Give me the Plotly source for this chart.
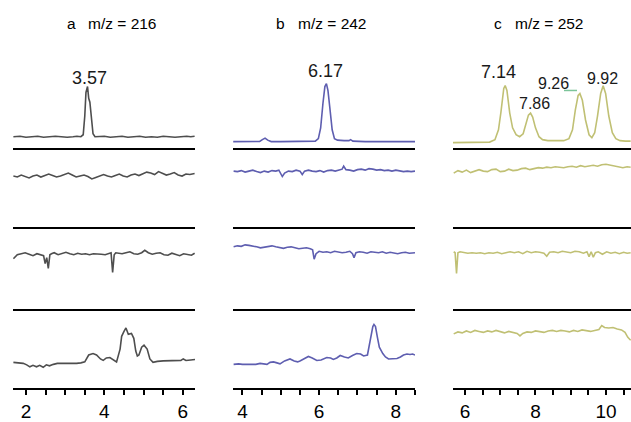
import plotly.graph_objects as go

# ---------------- data (retention time, min ; relative intensity) ----------------
titles_letter = ["a", "b", "c"]
titles_mz = ["m/z = 216", "m/z = 242", "m/z = 252"]

# column a
a1_x = [1.68,1.85,2.0,2.15,2.3,2.45,2.6,2.75,2.9,3.05,3.2,3.3,3.4,3.46,3.50,3.53,3.57,3.60,3.63,3.67,
        3.71,3.76,3.85,4.0,4.15,4.3,4.45,4.6,4.75,4.9,5.05,5.2,5.35,5.5,5.65,5.8,5.95,6.1,6.2,6.30]
a1_y = [11,11.5,10.5,11,11.5,10.5,11,11.5,11,10.5,11,11.5,11,13,32,56,62,50,46,26,
        14,11,11,11.5,10.5,11,11.5,10.5,11,11.5,10.5,11,10.5,11.5,11,10.5,11,11.5,11,11.5]
a2_x = [1.68,1.78,1.88,1.98,2.08,2.18,2.28,2.38,2.48,2.58,2.68,2.78,2.88,2.98,3.08,3.18,3.28,3.38,3.48,3.58,
        3.68,3.78,3.88,3.98,4.08,4.18,4.28,4.38,4.48,4.58,4.68,4.78,4.88,4.98,5.08,5.18,5.28,5.38,5.48,5.58,
        5.68,5.78,5.88,5.98,6.08,6.18,6.30]
a2_y = [52,51,53,51.5,50,52,53,51,52.5,54,52.5,51,52,53.5,55,53,51,52,53,51.5,
        49,50.5,52,53.5,52,51,52.5,54,52,51,53,54,52.5,54.5,56,55,53.5,56.5,55,53,
        54,55.5,53,52,54,53.5,54.5]
a3_x = [1.68,1.78,1.88,1.98,2.08,2.18,2.28,2.38,2.45,2.49,2.53,2.57,2.61,2.65,2.72,2.82,2.92,3.02,3.12,3.22,
        3.32,3.42,3.52,3.62,3.72,3.82,3.92,4.02,4.12,4.17,4.21,4.25,4.29,4.35,4.45,4.55,4.65,4.75,4.85,4.95,
        5.03,5.12,5.22,5.32,5.42,5.52,5.62,5.72,5.82,5.92,6.02,6.12,6.22,6.30]
a3_y = [51,55,56,57,55.5,54,56,55,54,46,52,41,55,56,57,55,56,57.5,56,55,
        56.5,55.5,56,55,56,56,55.5,55,56,57,37,55,57,56.5,56,57,58,56,55.5,57,
        59.5,57,55.5,56.5,57,55,54.5,56.5,55,54,56,55.5,54.5,56.5]
a4_x = [1.68,1.80,1.93,2.02,2.10,2.18,2.27,2.35,2.44,2.52,2.60,2.70,2.80,2.95,3.10,3.20,3.29,3.40,3.50,3.60,
        3.71,3.80,3.90,3.97,4.05,4.14,4.22,4.31,4.40,4.44,4.50,4.55,4.61,4.69,4.75,4.80,4.84,4.88,4.95,5.01,
        5.09,5.16,5.24,5.35,5.5,5.7,5.84,5.95,6.01,6.08,6.2,6.31]
a4_y = [26.5,26,25.5,24,22,23.5,22,23.5,21.5,24,23,24.5,25.5,25.5,25.5,25,25.5,26,27,34,
        35.5,34,30,28.5,31,31.5,29,27,40,53,58,61.5,55,56,51,38,33,34,42,44,
        40,30,26.5,27.5,28,28,28,28.5,30,28.5,29,29.5]

# column b
b1_x = [3.76,4.0,4.3,4.45,4.52,4.59,4.66,4.75,5.0,5.5,5.9,5.98,6.04,6.10,6.15,6.19,6.23,6.28,6.34,6.40,
        6.48,6.65,6.78,6.82,6.88,7.2,7.6,8.0,8.5]
b1_y = [6,6,6,6.2,8,9.5,7.5,6,6,6,6.5,9,20,45,62,65,58,40,18,9,
        7.5,7,7,8,6.5,6,6,6,6]
b2_x = [3.77,3.87,3.97,4.07,4.17,4.27,4.37,4.47,4.57,4.67,4.77,4.87,4.95,5.0,5.04,5.1,5.2,5.3,5.4,5.5,
        5.56,5.62,5.72,5.82,5.92,6.02,6.12,6.22,6.32,6.42,6.52,6.6,6.64,6.7,6.8,6.9,7.0,7.1,7.2,7.3,
        7.4,7.5,7.6,7.7,7.8,7.9,8.0,8.1,8.2,8.3,8.4,8.5]
b2_y = [57,56.5,57.5,56,57,58,56.5,55.5,57,56,57.5,57,58,55,51.5,55,57,56.5,58,57,
        53.5,57,58,57,56.5,57.5,56,57.5,58,57,58,59,62,58.5,58,57,58.5,59,58,59.5,
        59,58,58.5,57.5,58,57,58,57.5,56.5,57,56.5,57]
b3_x = [3.77,3.87,3.97,4.07,4.17,4.27,4.37,4.47,4.57,4.67,4.77,4.87,4.97,5.07,5.17,5.27,5.37,5.47,5.57,5.67,
        5.77,5.83,5.87,5.92,6.0,6.1,6.2,6.3,6.4,6.5,6.6,6.7,6.8,6.87,6.91,6.96,7.05,7.15,7.25,7.35,
        7.45,7.55,7.65,7.75,7.85,7.95,8.05,8.15,8.25,8.35,8.5]
b3_y = [63,64,63.5,65,64.5,64,63,62,62.5,63.5,64,63,62,61.5,62.5,63,62,61,61.5,62,
        61,60,50.5,56,58.5,57.5,58,57,58.5,58,57,57.5,58.5,56,52,57,58,57.5,56.5,58,
        57.5,57,58,56.5,57.5,57,56,57,57.5,56.5,57]
b4_x = [3.77,3.9,4.0,4.11,4.25,4.35,4.46,4.55,4.64,4.72,4.81,4.90,4.98,5.10,5.24,5.35,5.44,5.50,5.62,5.72,
        5.82,5.94,6.05,6.20,6.30,6.37,6.46,6.55,6.66,6.76,6.87,6.98,7.08,7.16,7.26,7.33,7.40,7.43,7.47,7.52,
        7.57,7.66,7.73,7.81,7.92,8.03,8.12,8.20,8.29,8.37,8.44,8.5]
b4_y = [24.5,25,24.5,24.5,24,24.5,25.5,25,24.5,26.5,27,26,25,28,30,28,27,28,30,32.5,
        31,28.5,29,31.5,31,29.5,31,33.5,32,31,33.5,35.5,35,33,34,50,63,65,63,52,
        42,35.5,32,30,30,30.5,32,34,35,34.5,35,34]

# column c
c1_x = [5.66,6.0,6.4,6.7,6.85,6.95,7.02,7.10,7.14,7.19,7.27,7.35,7.45,7.55,7.65,7.73,7.80,7.86,7.92,8.00,
        8.10,8.20,8.35,8.6,8.8,8.95,9.05,9.13,9.21,9.26,9.33,9.42,9.52,9.60,9.68,9.76,9.85,9.92,9.99,10.08,
        10.18,10.28,10.4,10.55,10.7]
c1_y = [5,5,5,5.5,8,18,36,60,63,58,35,20,13,11,14,24,33,35,31,20,
        11,8,7,7,7,9,18,38,53,55,48,28,13,10,15,32,55,62.7,55,32,
        15,9,7,6.5,6.5]
c2_x = [5.68,5.8,5.92,6.04,6.16,6.28,6.4,6.52,6.64,6.76,6.88,7.0,7.12,7.24,7.36,7.48,7.6,7.72,7.84,7.96,
        8.08,8.2,8.32,8.44,8.56,8.68,8.8,8.92,9.04,9.16,9.28,9.4,9.52,9.64,9.76,9.88,10.0,10.12,10.24,10.36,
        10.48,10.6,10.7]
c2_y = [55,57.5,56,58,55.5,57,58.5,57,56.5,58.5,59,56.5,57,59,57.5,58,59.5,60,58.5,59.5,
        60.5,60,61,60.5,61.5,61,60.5,61.5,62,61,62.5,61.5,62,63,62,63.5,64,63,62.5,61,
        60.5,61.5,61]
c3_x = [5.68,5.72,5.76,5.8,5.86,5.96,6.08,6.2,6.32,6.44,6.56,6.68,6.8,6.92,7.04,7.16,7.28,7.4,7.52,7.64,
        7.76,7.88,8.0,8.12,8.24,8.32,8.4,8.52,8.64,8.76,8.88,9.0,9.12,9.24,9.36,9.46,9.52,9.58,9.64,9.7,
        9.78,9.9,10.02,10.14,10.26,10.38,10.5,10.6,10.7]
c3_y = [58,57,36,57,58,57,56.5,57,56.5,57,56,57,56.5,57.5,56,57,58,57,58,56,
        58.5,57,58,57.5,56.5,53.5,57.5,58,57,58.5,58,57,58.5,58,56.5,58,53,58,52.5,57,
        58,55.5,58,56.5,57.5,56,57.5,56.5,57]
c4_x = [5.68,5.8,5.92,6.04,6.16,6.28,6.4,6.52,6.64,6.76,6.88,7.0,7.12,7.24,7.36,7.48,7.56,7.64,7.76,7.88,
        8.0,8.12,8.24,8.36,8.48,8.6,8.72,8.84,8.96,9.08,9.2,9.32,9.44,9.56,9.68,9.8,9.88,9.96,10.08,10.2,
        10.32,10.44,10.54,10.62,10.7]
c4_y = [55.5,57.5,56.5,58.5,57,59,58,57,58.5,57.5,59,58,56.5,58,57,56,53.5,56,57.5,57,
        58.5,58,57,58.5,59,58,59,58.5,57.5,59,58,59.5,58.5,58,59,60,64,62,61.5,62,
        60.5,59.5,57,52,49]

tick_labels = [["2", "4", "6"], ["4", "6", "8"], ["6", "8", "10"]]
peak_labels_a = ["3.57"]
peak_labels_b = ["6.17"]
peak_labels_c = ["7.14", "7.86", "9.26", "9.92"]

series = [
    [(a1_x, a1_y), (a2_x, a2_y), (a3_x, a3_y), (a4_x, a4_y)],
    [(b1_x, b1_y), (b2_x, b2_y), (b3_x, b3_y), (b4_x, b4_y)],
    [(c1_x, c1_y), (c2_x, c2_y), (c3_x, c3_y), (c4_x, c4_y)],
]

# ---------------- layout / styling ----------------
W, H = 631, 422
FONT = "Liberation Sans, Arial, sans-serif"
col_px = [(13, 195), (233, 415), (453, 631)]
xranges = [[1.67, 6.31], [3.754, 8.5], [5.66, 10.71]]
row_px = [(70, 150), (150, 231), (231, 314), (314, 395)]
colors = ["#4e4e4e", "#5e5eb0", "#c0c074"]
minor_step = 0.5

fig = go.Figure()
layout = {}
for ci in range(3):
    for ri in range(4):
        k = ci * 4 + ri + 1
        xn = "xaxis" if k == 1 else f"xaxis{k}"
        yn = "yaxis" if k == 1 else f"yaxis{k}"
        xr = "x" if k == 1 else f"x{k}"
        yr = "y" if k == 1 else f"y{k}"
        xs, ys = series[ci][ri]
        fig.add_trace(go.Scatter(x=xs, y=ys, xaxis=xr, yaxis=yr, mode="lines",
                                 line=dict(color=colors[ci], width=1.6),
                                 hoverinfo="skip", showlegend=False))
        t, b = row_px[ri]
        xa = dict(domain=[col_px[ci][0] / W, col_px[ci][1] / W], range=xranges[ci],
                  anchor=yr, showline=True, linecolor="black", linewidth=2,
                  showgrid=False, zeroline=False, fixedrange=True)
        if ri == 3:
            labs = tick_labels[ci]
            lo = float(labs[0])
            hi = xranges[ci][1]
            vals, texts = [], []
            v = lo
            while v <= hi + 1e-9:
                vals.append(v)
                s = f"{v:g}"
                texts.append(s if s in labs else "")
                v += minor_step
            xa.update(tickmode="array", tickvals=vals, ticktext=texts, ticks="outside",
                      ticklen=5, tickwidth=2, tickcolor="black",
                      tickfont=dict(family=FONT, size=19, color="black"))
        else:
            xa.update(showticklabels=False, ticks="")
        layout[xn] = xa
        layout[yn] = dict(domain=[1 - b / H, 1 - t / H], range=[0, b - t], anchor=xr,
                          visible=False, fixedrange=True)

annotations = []
# panel titles
letter_px = [71, 280.5, 498]
mz_px = [122.5, 332.5, 549]
for ci in range(3):
    annotations.append(dict(x=letter_px[ci] / W, y=1 - 24 / H, xref="paper", yref="paper",
                            text=titles_letter[ci], showarrow=False,
                            font=dict(family=FONT, size=15.5, color="black"),
                            xanchor="center", yanchor="middle"))
    annotations.append(dict(x=mz_px[ci] / W, y=1 - 24 / H, xref="paper", yref="paper",
                            text=titles_mz[ci], showarrow=False,
                            font=dict(family=FONT, size=15.5, color="black"),
                            xanchor="center", yanchor="middle"))

# peak labels (pixel centres of the labels)
peak_label_pos = [
    (peak_labels_a[0], 89.5, 79, 18),
    (peak_labels_b[0], 325.5, 72, 18),
    (peak_labels_c[0], 498, 73, 18),
    (peak_labels_c[1], 534, 105, 16),
    (peak_labels_c[2], 553, 85, 16),
    (peak_labels_c[3], 602, 80, 16),
]
for txt, px, py, fs in peak_label_pos:
    annotations.append(dict(x=px / W, y=1 - py / H, xref="paper", yref="paper", text=txt,
                            showarrow=False, font=dict(family=FONT, size=fs, color="#1a1a1a"),
                            xanchor="center", yanchor="middle"))

shapes = [dict(type="line", xref="paper", yref="paper", x0=564 / W, x1=577 / W,
               y0=1 - 92 / H, y1=1 - 92 / H, line=dict(color="#7cc49a", width=1.5))]

fig.update_layout(width=W, height=H, autosize=False,
                  margin=dict(l=0, r=0, t=0, b=0),
                  paper_bgcolor="white", plot_bgcolor="white",
                  annotations=annotations, shapes=shapes, **layout)

fig.write_html("out.html", config={"displayModeBar": False},
               post_script="document.body.style.margin='0';document.body.style.padding='0';document.body.style.overflow='hidden';")
